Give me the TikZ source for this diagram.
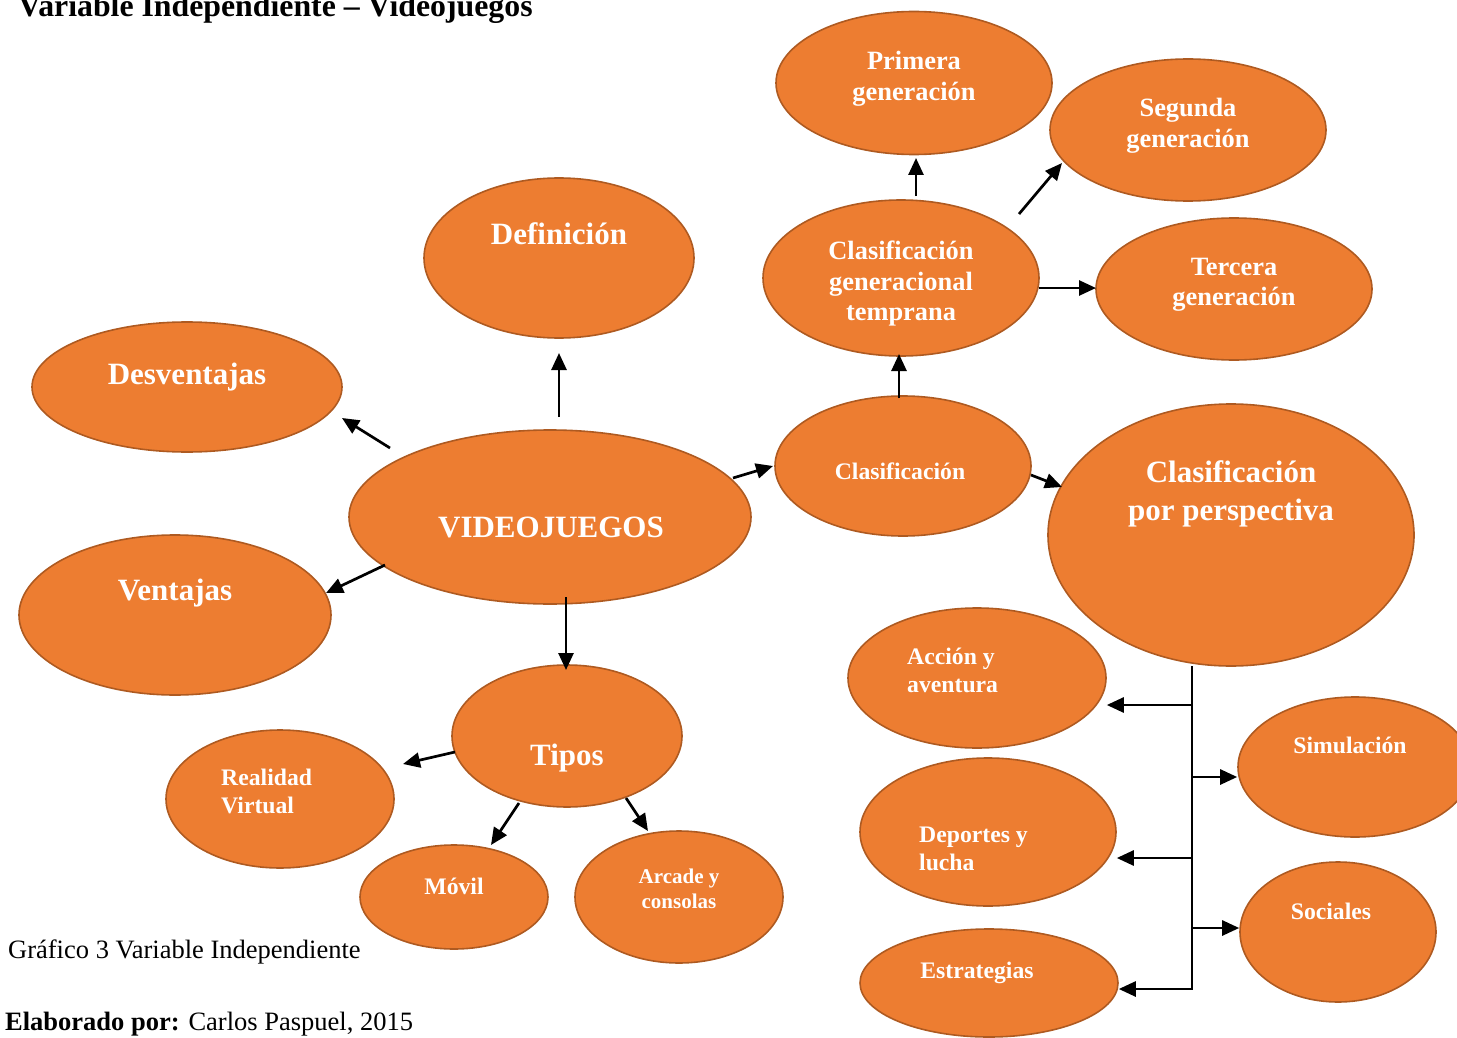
\documentclass[tikz,border=0pt]{standalone}
\usepackage{fontspec}
\setmainfont{Liberation Serif}
\usetikzlibrary{arrows.meta,calc,shapes.geometric}
\definecolor{orfill}{HTML}{ED7D31}
\definecolor{ordraw}{HTML}{AE5A21}
\tikzset{
  ell/.style={ellipse, fill=orfill, draw=ordraw, line width=1.6pt, inner sep=0pt},
  lbl/.style={text=white, font=\bfseries, inner sep=0pt, align=center},
  big/.style={lbl, font=\bfseries\fontsize{31}{38}\selectfont},
  mid/.style={lbl, font=\bfseries\fontsize{26.4}{30.5}\selectfont},
  sml/.style={lbl, font=\bfseries\fontsize{23.7}{28}\selectfont},
  tiny/.style={lbl, font=\bfseries\fontsize{21}{25}\selectfont},
  arr/.style={line width=2.7pt, -{Triangle[length=17pt,width=15pt]}},
  plain/.style={line width=2.7pt}
}
\begin{document}
\begin{tikzpicture}[x=1pt,y=-1pt]
\useasboundingbox (0,0) rectangle (1457,1038);
% ellipses
\node[ell, minimum width=276pt, minimum height=143pt] (prim) at (914,83) {};
\node[ell, minimum width=276pt, minimum height=142pt] (seg) at (1188,130) {};
\node[ell, minimum width=276pt, minimum height=156pt] (cgt) at (901,278) {};
\node[ell, minimum width=276pt, minimum height=142pt] (ter) at (1234,289) {};
\node[ell, minimum width=270pt, minimum height=160pt] (def) at (559,258) {};
\node[ell, minimum width=310pt, minimum height=130pt] (desv) at (187,387) {};
\node[ell, minimum width=402pt, minimum height=174pt] (vj) at (550,517) {};
\node[ell, minimum width=312pt, minimum height=160pt] (vent) at (175,615) {};
\node[ell, minimum width=256pt, minimum height=140pt] (clas) at (903,466) {};
\node[ell, minimum width=366pt, minimum height=262pt] (cpp) at (1231,535) {};
\node[ell, minimum width=258pt, minimum height=140pt] (acc) at (977,678) {};
\node[ell, minimum width=234pt, minimum height=140pt] (sim) at (1355,767) {};
\node[ell, minimum width=256pt, minimum height=148pt] (dep) at (988,832) {};
\node[ell, minimum width=258pt, minimum height=108pt] (est) at (989,983) {};
\node[ell, minimum width=196pt, minimum height=140pt] (soc) at (1338,932) {};
\node[ell, minimum width=230pt, minimum height=142pt] (tipos) at (567,736) {};
\node[ell, minimum width=228pt, minimum height=138pt] (rv) at (280,799) {};
\node[ell, minimum width=188pt, minimum height=104pt] (mov) at (454,897) {};
\node[ell, minimum width=208pt, minimum height=132pt] (arc) at (679,897) {};
% labels
\node[mid] (tprim) at (914,79) {Primera\\generación};
\node[mid] (tseg) at (1188,126) {Segunda\\generación};
\node[mid] (tcgt) at (901,284) {Clasificación\\generacional\\temprana};
\node[mid] (tter) at (1234,285) {Tercera\\generación};
\node[big] (tdef) at (559,234) {Definición};
\node[big] (tdesv) at (187,377) {Desventajas};
\node[big] (tvj) at (551,527) {VIDEOJUEGOS};
\node[big] (tvent) at (175,593) {Ventajas};
\node[sml] (tclas) at (900,471) {Clasificación};
\node[big] (tcpp) at (1231,494) {Clasificación\\por perspectiva};
\node[sml, align=left, anchor=west] (tacc) at (907,670) {Acción y\\aventura};
\node[sml] (tsim) at (1350,745) {Simulación};
\node[sml, align=left, anchor=west] (tdep) at (919,849) {Deportes y\\lucha};
\node[sml] (tsoc) at (1331,911) {Sociales};
\node[sml] (test) at (977,973) {Estrategias};
\node[big] (ttipos) at (567,758) {Tipos};
\node[sml, align=left, anchor=west] (trv) at (221,791) {Realidad\\Virtual};
\node[sml] (tmov) at (454,886) {Móvil};
\node[tiny] (tarc) at (679,889) {Arcade y\\consolas};
% connectors
\draw[arr] ($(vj)+(9,-100)$) -- ($(def)+(0,95)$);
\draw[arr] ($(vj)+(-160,-69)$) -- ($(desv)+(155,31)$);
\draw[arr] ($(vj)+(-165,48)$) -- ($(vent)+(151,-22)$);
\draw[arr] ($(vj)+(183,-39)$) -- ($(clas)+(-130,0)$);
\draw[arr] ($(vj)+(16,80)$) -- ($(tipos)+(-1,-66)$);
\draw[arr] ($(clas)+(-4,-68)$) -- ($(cgt)+(-2,76)$);
\draw[arr] ($(cgt)+(15,-82)$) -- ($(prim)+(2,75)$);
\draw[arr] ($(cgt)+(118,-64)$) -- ($(seg)+(-126,33)$);
\draw[arr] ($(cgt)+(138,10)$) -- ($(ter)+(-138,-1)$);
\draw[arr] ($(clas)+(128,9)$) -- ($(cpp)+(-169,-48)$);
\draw[arr] ($(tipos)+(-112,16)$) -- ($(rv)+(123,-35)$);
\draw[arr] ($(tipos)+(-48,67)$) -- ($(mov)+(37,-52)$);
\draw[arr] ($(tipos)+(59,62)$) -- ($(arc)+(-31,-66)$);
% tree
\coordinate (t0) at ($(cpp)+(-39,131)$);
\coordinate (t1) at ($(t0)+(0,39)$);
\coordinate (t2) at ($(t0)+(0,111)$);
\coordinate (t3) at ($(t0)+(0,192)$);
\coordinate (t4) at ($(t0)+(0,262)$);
\coordinate (t5) at ($(t0)+(0,323)$);
\draw[arr] (t0) -- (t5) -- (t5 -| est.east);
\draw[arr] (t1) -- (t1 -| acc.east);
\draw[arr] (t2) -- (t2 -| sim.west);
\draw[arr] (t3) -- (t3 -| dep.east);
\draw[arr] (t4) -- (t4 -| soc.west);
% texts
\node[anchor=base west, inner sep=0pt, font=\bfseries\fontsize{31.8}{38}\selectfont] (title) at (18,17) {Variable Independiente – Videojuegos};
\node[anchor=base west, inner sep=0pt, font=\fontsize{26.5}{32}\selectfont] (cap) at (8,958) {Gráfico 3 Variable Independiente};
\node[anchor=base west, inner sep=0pt, font=\fontsize{26.5}{32}\selectfont] (elab) at (5,1030) {\textbf{Elaborado por:} Carlos Paspuel, 2015};
\end{tikzpicture}
\end{document}
